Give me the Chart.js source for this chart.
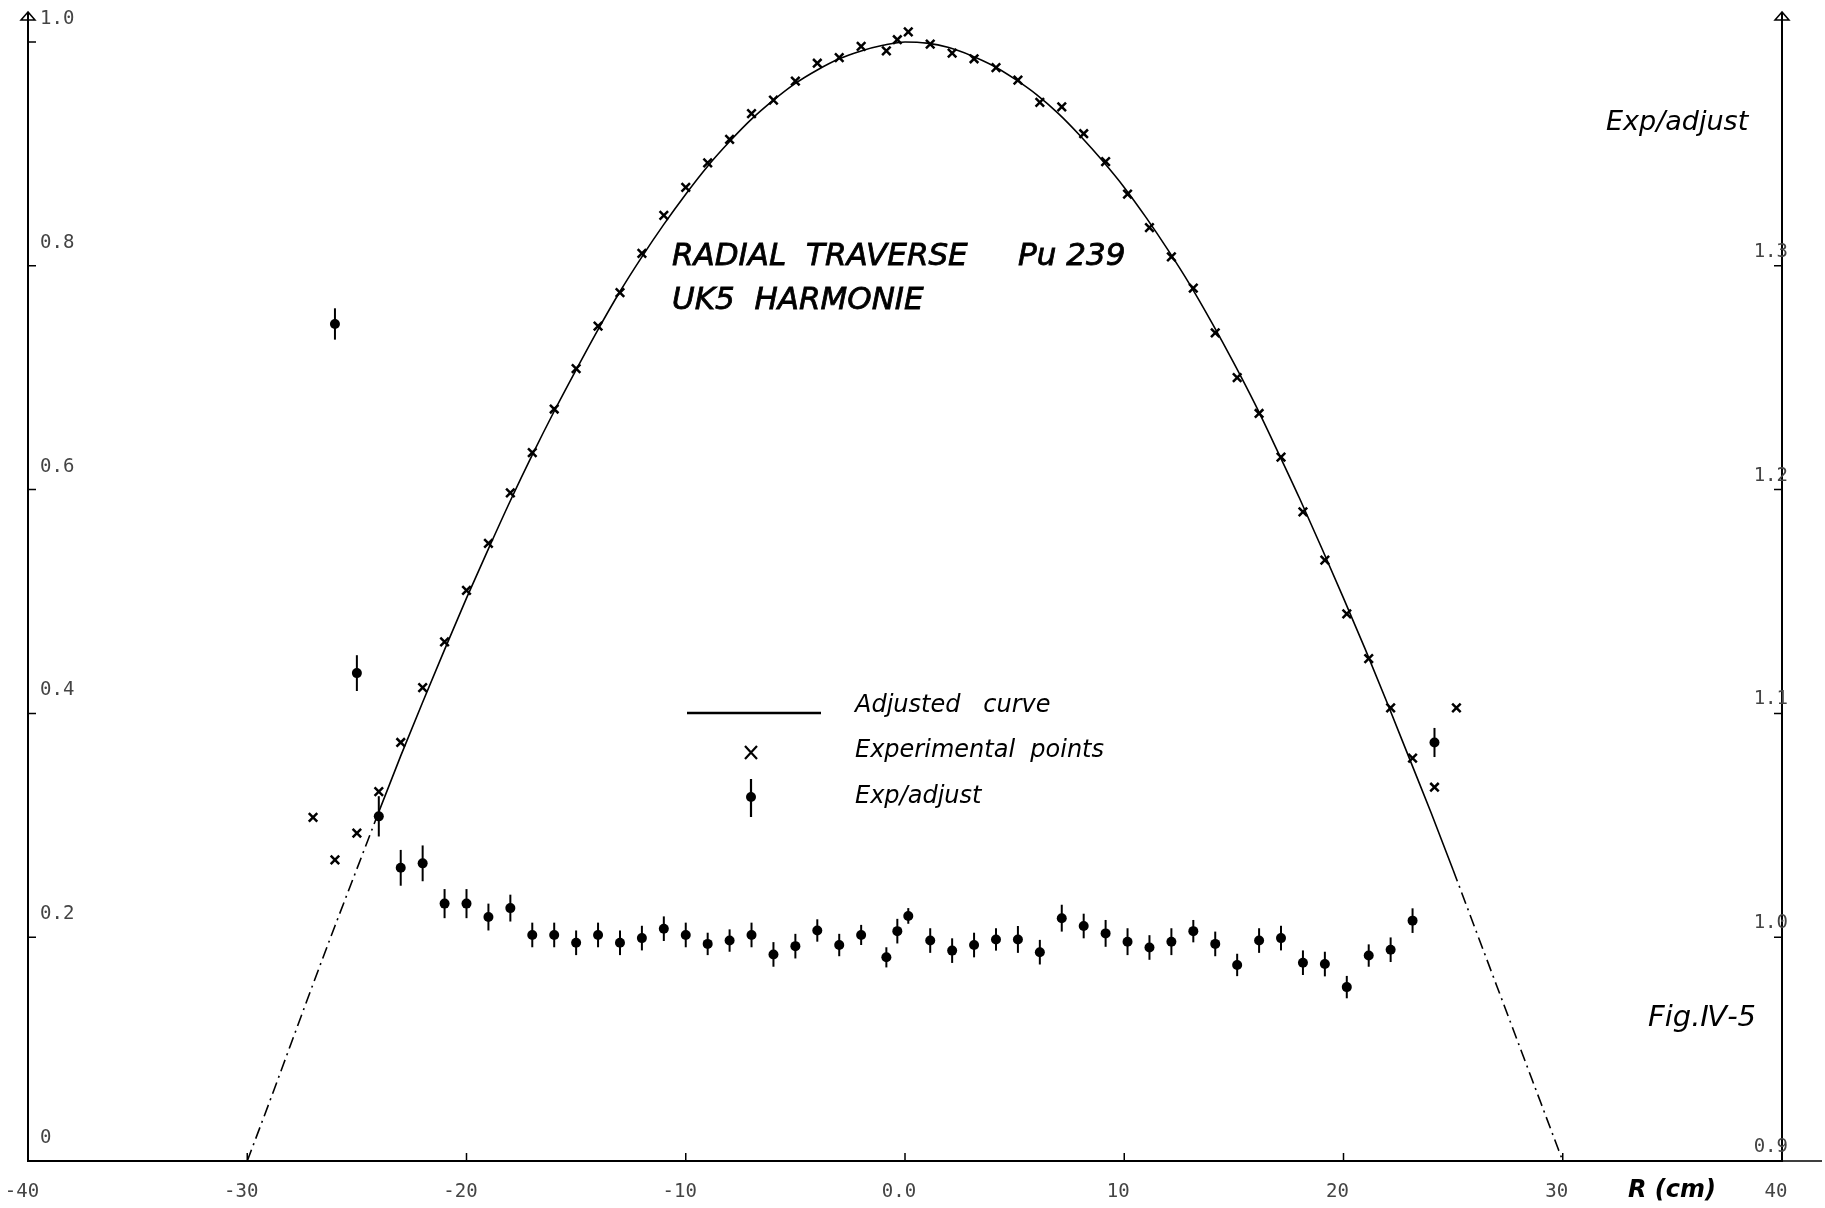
<!DOCTYPE html>
<html lang="en">
<head>
  <meta charset="UTF-8" />
  <title>Radial traverse Pu 239 - UK5 Harmonie</title>
  <script src="https://cdn.jsdelivr.net/npm/chart.js"></script>
  <style>
    body {
      margin: 0;
      background: #fff;
    }
    #wrap {
      width: 1825px;
      height: 1208px;
    }
  </style>
</head>
<body>
  <div id="wrap">
    <canvas id="traverseChart" width="1825" height="1208"></canvas>
  </div>

  <script>
    // measurement positions R (cm)
    const radius = [-27, -26, -25, -24, -23, -22, -21, -20, -19, -18, -17, -16, -15, -14, -13, -12, -11, -10, -9, -8, -7, -6, -5, -4, -3, -2,
      -0.85, -0.35, 0.15,
      1.15, 2.15, 3.15, 4.15, 5.15, 6.15, 7.15, 8.15, 9.15, 10.15, 11.15, 12.15, 13.15, 14.15, 15.15, 16.15, 17.15, 18.15, 19.15, 20.15,
      21.15, 22.15, 23.15, 24.15, 25.15];

    // experimental points (left axis)
    const expPoints = [0.307, 0.269, 0.293, 0.330, 0.374, 0.423, 0.464, 0.510, 0.552, 0.597, 0.633, 0.672, 0.708, 0.746, 0.776, 0.811, 0.845, 0.870, 0.892, 0.913, 0.936, 0.948, 0.965, 0.981, 0.986, 0.996,
      0.992, 1.002, 1.009,
      0.998, 0.990, 0.985, 0.977, 0.966, 0.946, 0.942, 0.918, 0.893, 0.864, 0.834, 0.808, 0.780, 0.740, 0.700, 0.668, 0.629, 0.580, 0.537, 0.489,
      0.449, 0.405, 0.360, 0.334, 0.405];

    // exp/adjust ratio (right axis) and its error bar half-length
    const ratio = [null, 1.274, 1.118, 1.054, 1.031, 1.033, 1.015, 1.015, 1.009, 1.013, 1.001, 1.001, 0.9975, 1.001, 0.9975, 0.9996, 1.0038, 1.001, 0.997, 0.9985, 1.001, 0.9923, 0.996, 1.003, 0.9965, 1.001,
      0.991, 1.0027, 1.0095,
      0.9985, 0.994, 0.9965, 0.999, 0.999, 0.9933, 1.0085, 1.005, 1.0017, 0.998, 0.9954, 0.998, 1.0027, 0.997, 0.9876, 0.9985, 0.9996, 0.9886, 0.988, 0.9777,
      0.9918, 0.9944, 1.0074, 1.087, null];
    const ratioErr = [null, 0.007, 0.008, 0.009, 0.008, 0.008, 0.0065, 0.0065, 0.006, 0.006, 0.0055, 0.0055, 0.0055, 0.0055, 0.0055, 0.0055, 0.0055, 0.0055, 0.005, 0.005, 0.0055, 0.0055, 0.0055, 0.005, 0.005, 0.0045,
      0.0045, 0.0055, 0.0035,
      0.0055, 0.0055, 0.0055, 0.005, 0.006, 0.0055, 0.006, 0.0055, 0.006, 0.006, 0.0055, 0.006, 0.005, 0.0055, 0.005, 0.0055, 0.0055, 0.0055, 0.0055, 0.005,
      0.005, 0.0055, 0.0055, 0.0065, null];

    // adjusted curve
    const curveR = [-30, -29, -28, -27, -26, -25, -24, -23, -22, -21, -20, -19, -18, -17, -16, -15, -14, -13, -12, -11, -10,
      -9, -8, -7, -6, -5, -4, -3, -2, -1, 0, 1, 2, 3, 4, 5, 6, 7, 8, 9,
      10, 11, 12, 13, 14, 15, 16, 17, 18, 19, 20, 21, 22, 23, 24, 25, 26, 27, 28, 29, 30];
    const curveVal = [0, 0.052, 0.105, 0.158, 0.210, 0.261, 0.312, 0.362, 0.410, 0.457, 0.503, 0.547, 0.590, 0.631, 0.670, 0.707, 0.743, 0.777, 0.808, 0.837, 0.864,
      0.889, 0.911, 0.931, 0.948, 0.963, 0.975, 0.985, 0.992, 0.997, 1.0, 0.999, 0.995, 0.988, 0.979, 0.967, 0.953, 0.936, 0.916, 0.894,
      0.870, 0.843, 0.814, 0.783, 0.749, 0.713, 0.675, 0.634, 0.592, 0.548, 0.503, 0.457, 0.409, 0.360, 0.311, 0.260, 0.208, 0.156, 0.104, 0.052, 0];

    // ticks
    const xTicks = [-40, -30, -20, -10, 0, 10, 20, 30, 40];
    const xTickLabels = ['-40', '-30', '-20', '-10', '0.0', '10', '20', '30', '40'];
    const yTicks = [0, 0.2, 0.4, 0.6, 0.8, 1.0];
    const yTickLabels = ['0', '0.2', '0.4', '0.6', '0.8', '1.0'];
    const y2Ticks = [0.9, 1.0, 1.1, 1.2, 1.3];
    const y2TickLabels = ['0.9', '1.0', '1.1', '1.2', '1.3'];

    const Y_MAX = 1.025;
    const tickFont = { family: 'DejaVu Sans Mono', size: 19 };
    const tickColor = '#444';

    function noPad(s) {
      s.paddingLeft = 0;
      s.paddingRight = 0;
      s.paddingTop = 0;
      s.paddingBottom = 0;
    }

    const errorBars = {
      id: 'errorBars',
      afterDatasetsDraw(chart) {
        const ctx = chart.ctx;
        const xs = chart.scales.x, ys = chart.scales.y2;
        ctx.save();
        ctx.strokeStyle = '#000';
        ctx.lineWidth = 2;
        radius.forEach((r, i) => {
          if (ratio[i] == null) return;
          const px = xs.getPixelForValue(r);
          ctx.beginPath();
          ctx.moveTo(px, ys.getPixelForValue(ratio[i] + ratioErr[i]));
          ctx.lineTo(px, ys.getPixelForValue(ratio[i] - ratioErr[i]));
          ctx.stroke();
        });
        ctx.restore();
      }
    };

    const axisDecor = {
      id: 'axisDecor',
      afterDraw(chart) {
        const ctx = chart.ctx;
        const a = chart.chartArea;
        const xs = chart.scales.x, ys = chart.scales.y, ys2 = chart.scales.y2;
        ctx.save();
        ctx.strokeStyle = '#000';
        ctx.lineWidth = 1.5;

        // inward tick marks
        ctx.beginPath();
        yTicks.forEach(v => {
          const p = ys.getPixelForValue(v);
          ctx.moveTo(a.left, p); ctx.lineTo(a.left + 8, p);
        });
        y2Ticks.forEach(v => {
          const p = ys2.getPixelForValue(v);
          ctx.moveTo(a.right, p); ctx.lineTo(a.right - 8, p);
        });
        xTicks.forEach(v => {
          const p = xs.getPixelForValue(v);
          ctx.moveTo(p, a.bottom); ctx.lineTo(p, a.bottom - 8);
        });
        // x axis runs past the right axis
        ctx.moveTo(a.right, a.bottom); ctx.lineTo(1822, a.bottom);
        ctx.stroke();

        // open arrow heads on both vertical axes
        [a.left, a.right].forEach(x => {
          ctx.beginPath();
          ctx.moveTo(x, a.top - 2);
          ctx.lineTo(x - 7, a.top + 6);
          ctx.lineTo(x + 7, a.top + 6);
          ctx.closePath();
          ctx.stroke();
        });

        // captions
        ctx.fillStyle = '#000';
        ctx.textBaseline = 'middle';
        ctx.textAlign = 'left';
        ctx.lineWidth = 0.8;
        ctx.font = 'italic 31px "DejaVu Sans"';
        [['RADIAL  TRAVERSE', 672, 257], ['Pu 239', 1018, 257], ['UK5  HARMONIE', 672, 301]].forEach(([t, x, y]) => {
          ctx.fillText(t, x, y);
          ctx.strokeText(t, x, y);
        });

        ctx.font = 'italic 27px "DejaVu Sans"';
        ctx.fillText('Exp/adjust', 1606, 123);
        ctx.font = 'italic 29px "DejaVu Sans"';
        ctx.fillText('Fig.\u2163-5', 1648, 1018);
        ctx.font = 'bold italic 24px "DejaVu Sans"';
        ctx.fillText('R (cm)', 1628, 1191);

        // legend
        ctx.font = 'italic 24px "DejaVu Sans"';
        ctx.fillText('Adjusted   curve', 855, 706);
        ctx.fillText('Experimental  points', 855, 751);
        ctx.fillText('Exp/adjust', 855, 797);

        ctx.lineWidth = 2.5;
        ctx.beginPath();
        ctx.moveTo(687, 713); ctx.lineTo(821, 713);
        ctx.stroke();
        ctx.lineWidth = 2.2;
        ctx.beginPath();
        ctx.moveTo(745, 746); ctx.lineTo(757, 759);
        ctx.moveTo(757, 746); ctx.lineTo(745, 759);
        ctx.moveTo(751, 779); ctx.lineTo(751, 817);
        ctx.stroke();
        ctx.beginPath();
        ctx.arc(751, 797, 5, 0, Math.PI * 2);
        ctx.fill();
        ctx.restore();
      }
    };

    new Chart(document.getElementById('traverseChart').getContext('2d'), {
      type: 'scatter',
      data: {
        datasets: [
          {
            type: 'line',
            label: 'Adjusted curve',
            data: curveR.map((r, i) => ({ x: r, y: curveVal[i] })),
            borderColor: '#000',
            borderWidth: 1.6,
            pointRadius: 0,
            cubicInterpolationMode: 'monotone',
            yAxisID: 'y',
            segment: {
              borderDash: c => ((c.p0.parsed.x < 0 && c.p1.parsed.y < 0.36) || (c.p0.parsed.x > 0 && c.p0.parsed.y < 0.27)) ? [12, 5, 2, 5] : undefined
            }
          },
          {
            label: 'Experimental points',
            data: radius.map((r, i) => ({ x: r, y: expPoints[i] })),
            pointStyle: 'crossRot',
            pointRadius: 6,
            borderWidth: 2.5,
            borderColor: '#000',
            yAxisID: 'y'
          },
          {
            label: 'Exp/adjust',
            data: radius.map((r, i) => ({ x: r, y: ratio[i] })).filter(p => p.y != null),
            pointStyle: 'circle',
            pointRadius: 5,
            borderWidth: 0,
            backgroundColor: '#000',
            yAxisID: 'y2'
          }
        ]
      },
      options: {
        responsive: false,
        animation: false,
        layout: { padding: { top: 14, left: 0, right: 0, bottom: 0 } },
        plugins: {
          legend: { display: false },
          tooltip: { enabled: false }
        },
        scales: {
          x: {
            type: 'linear',
            min: -40,
            max: 40,
            afterFit: s => { s.height = 47; noPad(s); },
            afterBuildTicks: s => { s.ticks = xTicks.map(v => ({ value: v })); },
            grid: { drawOnChartArea: false, drawTicks: false },
            border: { color: '#000', width: 2 },
            ticks: {
              autoSkip: false,
              maxRotation: 0,
              padding: 20,
              labelOffset: -6,
              font: tickFont,
              color: tickColor,
              callback: v => xTickLabels[xTicks.indexOf(v)]
            }
          },
          y: {
            type: 'linear',
            position: 'left',
            min: 0,
            max: Y_MAX,
            afterFit: s => { s.width = 28; noPad(s); },
            afterBuildTicks: s => { s.ticks = yTicks.map(v => ({ value: v })); },
            grid: { drawOnChartArea: false, drawTicks: false },
            border: { color: '#000', width: 2 },
            ticks: {
              mirror: true,
              padding: 12,
              labelOffset: -23,
              font: tickFont,
              color: tickColor,
              callback: v => yTickLabels[yTicks.indexOf(v)]
            }
          },
          y2: {
            type: 'linear',
            position: 'right',
            min: 0.9,
            max: 0.9 + Y_MAX / 2,
            afterFit: s => { s.width = 43; noPad(s); },
            afterBuildTicks: s => { s.ticks = y2Ticks.map(v => ({ value: v })); },
            grid: { drawOnChartArea: false, drawTicks: false },
            border: { color: '#000', width: 2 },
            ticks: {
              mirror: true,
              padding: 6,
              labelOffset: -14,
              font: tickFont,
              color: tickColor,
              callback: v => y2TickLabels[y2Ticks.findIndex(t => Math.abs(t - v) < 1e-9)]
            }
          }
        }
      },
      plugins: [errorBars, axisDecor]
    });
  </script>
</body>
</html>
